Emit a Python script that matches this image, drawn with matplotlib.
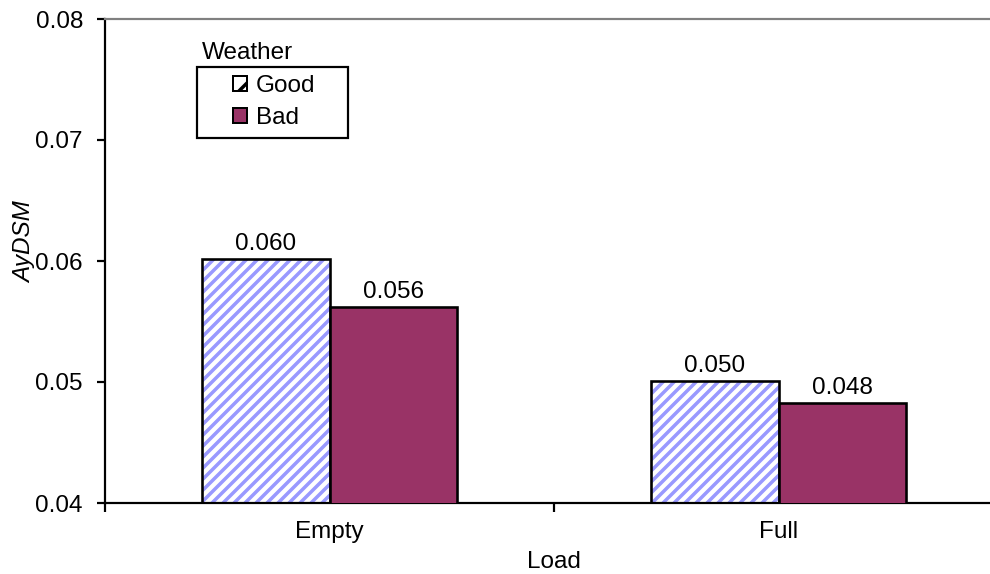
import matplotlib
matplotlib.use('Agg')
from matplotlib import pyplot as plt
from matplotlib.patches import Patch, Rectangle

DPI = 66
PX = 72.0 / DPI   # points per pixel

plt.rcParams['font.family'] = ['Liberation Sans', 'DejaVu Sans']
plt.rcParams['hatch.linewidth'] = 3.5 * PX

loads = ['Empty', 'Full']
weather = ['Good', 'Bad']
good = [0.0602, 0.0501]
bad = [0.0562, 0.0483]
value_labels_good = ['0.060', '0.050']
value_labels_bad = ['0.056', '0.048']

fs = 24.2 * PX
hatch_col = '#9999FF'
bad_col = '#993366'

fig = plt.figure(figsize=(990 / DPI, 574 / DPI), dpi=DPI)
ax = fig.add_axes([105 / 990, 1 - 503 / 574, (1003 - 105) / 990, (503 - 19) / 574])

x = list(range(len(loads)))
w = 0.285
xg = [i - w / 2 for i in x]
xb = [i + w / 2 for i in x]

# hatched "Good" bars: hatch drawn in edge colour, black outline on top
ax.bar(xg, good, w, color='white', edgecolor=hatch_col, hatch='//', linewidth=0, zorder=2)
bg = ax.bar(xg, good, w, color='none', edgecolor='black', linewidth=2.6 * PX, zorder=3)
bb = ax.bar(xb, bad, w, color=bad_col, edgecolor='black', linewidth=2.6 * PX, zorder=3)

ax.bar_label(bg, labels=value_labels_good, padding=4 * PX, fontsize=fs)
ax.bar_label(bb, labels=value_labels_bad, padding=4 * PX, fontsize=fs)

ax.set_xlim(-0.5, 1.5)
ax.set_ylim(0.04, 0.08)
ax.set_yticks([0.04, 0.05, 0.06, 0.07, 0.08])
ax.set_yticklabels(['0.04', '0.05', '0.06', '0.07', '0.08'])
ax.set_xticks(x)
ax.set_xticklabels(loads)
ax.set_xticks([-0.5, 0.5, 1.5], minor=True)
ax.tick_params(axis='x', which='major', length=0, pad=18 * PX, labelsize=fs)
ax.tick_params(axis='x', which='minor', length=9 * PX, width=2.2 * PX, direction='out')
ax.tick_params(axis='y', length=8 * PX, width=2.2 * PX, pad=14 * PX, labelsize=fs)

for s in ['left', 'bottom']:
    ax.spines[s].set_linewidth(2.2 * PX)
    ax.spines[s].set_color('black')
ax.spines['top'].set_linewidth(2.2 * PX)
ax.spines['top'].set_color('#808080')
ax.spines['right'].set_visible(False)

ax.set_xlabel('Load', fontsize=fs)
ax.xaxis.set_label_coords(0.5, -0.099)
ax.set_ylabel('AyDSM', fontsize=fs, style='italic')
ax.yaxis.set_label_coords(-0.077, 0.54)

# legend: title sits above a framed box
handles = [Patch(facecolor='white', edgecolor='black', hatch='/', linewidth=2 * PX),
           Patch(facecolor=bad_col, edgecolor='black', linewidth=2 * PX)]
frame = Rectangle((197 / 990, 1 - 138 / 574), 151 / 990, 71 / 574,
                  transform=fig.transFigure, facecolor='white',
                  edgecolor='black', linewidth=2.2 * PX, zorder=5, clip_on=False)
ax.add_patch(frame)
leg = ax.legend(handles, weather, loc='upper left',
                bbox_to_anchor=(233 / 990, 1 - 75 / 574), bbox_transform=fig.transFigure,
                frameon=False, fontsize=fs, borderpad=0, borderaxespad=0,
                handlelength=0.58, handleheight=0.58, handletextpad=0.38, labelspacing=0.42)
leg.set_zorder(6)
ax.text(202 / 990, 1 - 53 / 574, 'Weather', fontsize=fs, va='center', ha='left',
        transform=fig.transFigure)

fig.savefig('out.png', dpi=DPI)
